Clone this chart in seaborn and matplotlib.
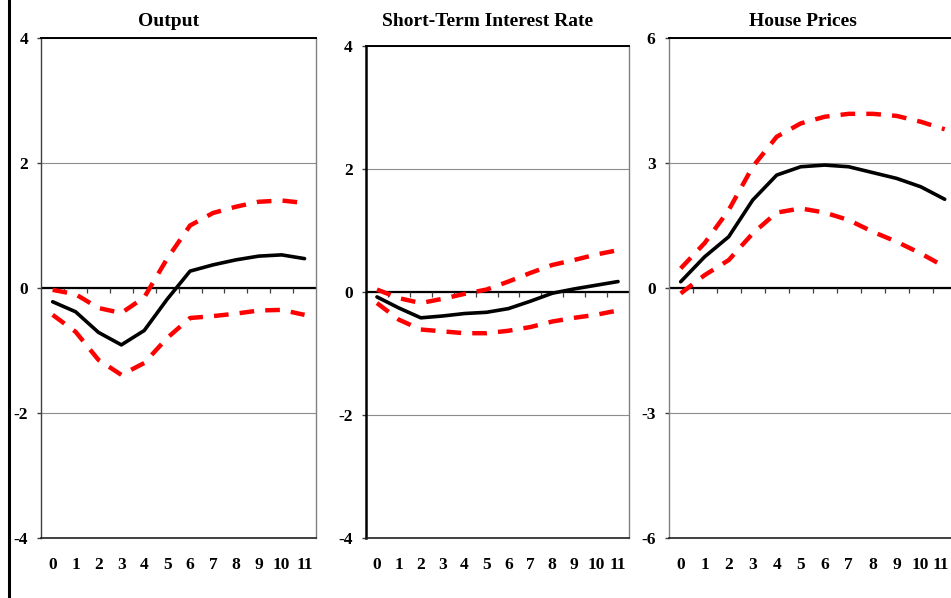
import numpy as np
import pandas as pd
import matplotlib
matplotlib.use("Agg")
import matplotlib.pyplot as plt
import matplotlib.transforms as mtransforms
import seaborn as sns
from matplotlib.lines import Line2D

# ---------------- data ----------------
horizons = list(range(12))
tick_labels = [str(h) for h in horizons]

output_mean = [-0.22, -0.38, -0.71, -0.91, -0.68, -0.18, 0.27, 0.37, 0.45, 0.51, 0.53, 0.47]
output_upper = [-0.03, -0.10, -0.32, -0.40, -0.15, 0.47, 1.00, 1.20, 1.30, 1.38, 1.40, 1.36]
output_lower = [-0.43, -0.70, -1.15, -1.39, -1.20, -0.80, -0.48, -0.45, -0.41, -0.36, -0.35, -0.43]

rate_mean = [-0.08, -0.26, -0.42, -0.39, -0.35, -0.33, -0.27, -0.15, -0.02, 0.05, 0.11, 0.17]
rate_upper = [0.04, -0.10, -0.18, -0.11, -0.03, 0.04, 0.17, 0.31, 0.44, 0.52, 0.61, 0.68]
rate_lower = [-0.18, -0.45, -0.61, -0.64, -0.67, -0.67, -0.63, -0.57, -0.48, -0.42, -0.37, -0.30]

house_mean = [0.15, 0.75, 1.23, 2.11, 2.71, 2.91, 2.95, 2.91, 2.77, 2.63, 2.43, 2.13]
house_upper = [0.47, 1.08, 1.87, 2.91, 3.63, 3.95, 4.11, 4.18, 4.18, 4.13, 3.99, 3.81]
house_lower = [-0.13, 0.31, 0.67, 1.31, 1.81, 1.91, 1.81, 1.63, 1.35, 1.11, 0.83, 0.51]

titles = ["Output", "Short-Term Interest Rate", "House Prices"]
y_ticks = [[-4, -2, 0, 2, 4], [-4, -2, 0, 2, 4], [-6, -3, 0, 3, 6]]
series = [
    (output_mean, output_upper, output_lower),
    (rate_mean, rate_upper, rate_lower),
    (house_mean, house_upper, house_lower),
]

# ---------------- style ----------------
sns.set_theme(style="white")
plt.rcParams["font.family"] = ["Liberation Serif", "DejaVu Serif"]
plt.rcParams["font.weight"] = "bold"

W, H = 951, 598
fig = plt.figure(figsize=(W / 100, H / 100), dpi=100)
fig.patch.set_facecolor("white")

# axes rectangles in pixels: left, right, top, bottom
rects_px = [(41.2, 316.0, 38, 538), (366.0, 629.0, 46, 538), (668.7, 956.7, 38, 538)]
left_spine_style = [("#404040", 1.0), ("black", 1.8), ("#808080", 1.0)]

for i, ((l, r, t, b), (mean, up, lo)) in enumerate(zip(rects_px, series)):
    ax = fig.add_axes([l / W, 1 - b / H, (r - l) / W, (b - t) / H])
    df = pd.DataFrame({
        "horizon": horizons * 3,
        "value": list(mean) + list(up) + list(lo),
        "band": ["mean"] * 12 + ["upper"] * 12 + ["lower"] * 12,
    })
    sns.lineplot(
        data=df, x="horizon", y="value", hue="band", style="band", size="band",
        palette={"mean": "black", "upper": "#ff0000", "lower": "#ff0000"},
        dashes={"mean": "", "upper": (3.3, 2.5), "lower": (3.3, 2.5)},
        sizes={"mean": 2.6, "upper": 3.2, "lower": 3.2},
        estimator=None, sort=False, legend=False, ax=ax, zorder=3,
    )
    yt = y_ticks[i]
    ax.set_xlim(-0.5, 11.5)
    ax.set_ylim(yt[0], yt[-1])
    ax.set_xticks(horizons)
    ax.set_xticklabels(tick_labels)
    ax.set_yticks(yt)
    ax.set_yticklabels([str(v) for v in yt])
    ax.set_xlabel("")
    ax.set_ylabel("")
    ax.tick_params(axis="x", length=0, pad=13.5, labelsize=12.5, labelcolor="black")
    ax.tick_params(axis="y", length=3, width=1, direction="out", pad=6.5,
                   labelsize=12.5, labelcolor="black", color="#404040", left=True)
    for lab in ax.get_xticklabels() + ax.get_yticklabels():
        lab.set_fontweight("bold")

    if i == 2:
        # keep the last label inside the figure edge, as in the reference
        last = ax.get_xticklabels()[-1]
        last.set_transform(last.get_transform() +
                           mtransforms.ScaledTranslation(-4 / 100, 0, fig.dpi_scale_trans))

    ax.yaxis.grid(True, color="#8c8c8c", lw=0.8)
    ax.xaxis.grid(False)
    ax.set_axisbelow(True)

    # zero line with category boundary ticks
    ax.axhline(0, color="black", lw=1.6, zorder=2)
    px_per_unit = (b - t) / (yt[-1] - yt[0])
    tick_len = 4.5 / px_per_unit
    ax.vlines(np.arange(0.5, 11.0, 1.0), -tick_len, 0, color="#404040", lw=0.9, zorder=2)

    # spines
    c, lw = left_spine_style[i]
    ax.spines["left"].set_color(c)
    ax.spines["left"].set_linewidth(lw)
    ax.spines["top"].set_color("black")
    ax.spines["top"].set_linewidth(1.4)
    ax.spines["right"].set_color("#808080")
    ax.spines["right"].set_linewidth(1.0)
    ax.spines["bottom"].set_color("#202020")
    ax.spines["bottom"].set_linewidth(1.2)
    for s in ax.spines.values():
        s.set_visible(True)

    cx = (l + r) / 2 - 10
    fig.text(cx / W, 1 - 21 / H, titles[i], ha="center", va="center",
             fontsize=14, fontweight="bold", color="black")

# left border line of the figure
fig.add_artist(Line2D([9 / W, 9 / W], [0, 1], color="black", lw=2.2,
                      transform=fig.transFigure))

fig.savefig("out.png", dpi=100, facecolor="white")
